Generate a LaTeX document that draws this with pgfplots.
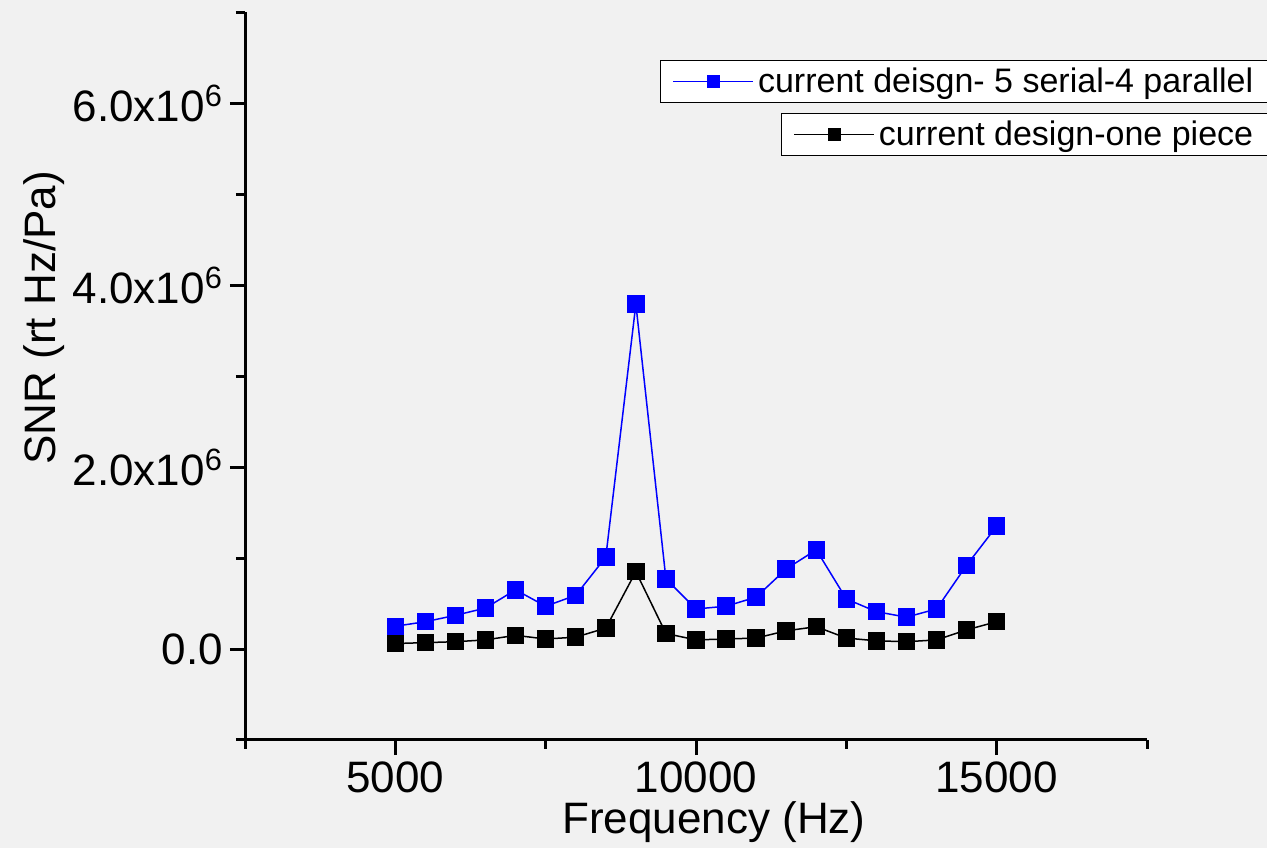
\documentclass[border=0pt]{standalone}
\usepackage{fontspec}
\setmainfont{Liberation Sans}
\usepackage{pgfplots}
\pgfplotsset{compat=1.18}
\definecolor{bg}{RGB}{241,241,241}
\begin{document}
\begin{tikzpicture}
\fill[bg] (0,0) rectangle (633.5bp,424bp);
\useasboundingbox (0,0) rectangle (633.5bp,424bp);
\pgfplotsset{
 common/.style={
  at={(122.5bp,54bp)}, anchor=south west,
  width=451bp, height=364bp, scale only axis,
  xmin=2500, xmax=17500, ymin=-1e6, ymax=7e6,
  clip=false, scaled ticks=false,
 },
}
\begin{axis}[common,
 axis x line*=bottom, axis y line*=left,
 axis line style={line width=1.5bp,-},
 tick align=outside, major tick length=7.5bp, minor tick length=4.5bp,
 tick style={line width=1.5bp, black},
 xtick={5000,10000,15000}, xticklabels={5000,10000,15000},
 minor xtick={2500,7500,12500,17500},
 ytick={0,2e6,4e6,6e6},
 yticklabels={0.0, 2.0x10\textsuperscript{6}, 4.0x10\textsuperscript{6}, 6.0x10\textsuperscript{6}},
 minor ytick={-1e6,1e6,3e6,5e6,7e6},
 ticklabel style={font=\fontsize{22bp}{26bp}\selectfont},
 xlabel={Frequency (Hz)}, ylabel={SNR (rt Hz/Pa)},
 label style={font=\fontsize{22bp}{26bp}\selectfont},
 xlabel style={at={(axis description cs:0.52,-0.113)}, anchor=center},
 ylabel style={at={(axis description cs:-0.223,0.58)}, anchor=center},
 legend style={at={(axis description cs:1.136,0.934)}, anchor=north east,
   draw=black, line width=0.5bp, fill=white,
   font=\fontsize{17bp}{20bp}\selectfont, inner xsep=6bp, inner ysep=1.5bp},
 legend image code/.code={\draw[#1, mark size=2.8bp, mark repeat=2, mark phase=2] plot coordinates {(0bp,0bp)(20bp,0bp)(40bp,0bp)};},
]
\addplot[blue, line width=0.75bp, mark=square*, mark size=4bp, mark options={solid, fill=blue, draw=blue}]
coordinates {(5000,0.25e6)(5500,0.30e6)(6000,0.37e6)(6500,0.45e6)(7000,0.65e6)(7500,0.47e6)(8000,0.59e6)(8500,1.01e6)(9000,3.79e6)(9500,0.77e6)(10000,0.44e6)(10500,0.47e6)(11000,0.57e6)(11500,0.88e6)(12000,1.09e6)(12500,0.55e6)(13000,0.41e6)(13500,0.35e6)(14000,0.44e6)(14500,0.92e6)(15000,1.35e6)};
\addlegendentry{current deisgn- 5 serial-4 parallel}
\end{axis}
\begin{axis}[common, hide axis,
 legend style={at={(axis description cs:1.136,0.861)}, anchor=north east,
   draw=black, line width=0.5bp, fill=white,
   font=\fontsize{17bp}{20bp}\selectfont, inner xsep=6bp, inner ysep=1.5bp},
 legend image code/.code={\draw[#1, mark size=2.8bp, mark repeat=2, mark phase=2] plot coordinates {(0bp,0bp)(20bp,0bp)(40bp,0bp)};},
]
\addplot[black, line width=0.75bp, mark=square*, mark size=4bp, mark options={solid, fill=black, draw=black}]
coordinates {(5000,0.06e6)(5500,0.07e6)(6000,0.08e6)(6500,0.10e6)(7000,0.15e6)(7500,0.11e6)(8000,0.13e6)(8500,0.23e6)(9000,0.85e6)(9500,0.17e6)(10000,0.10e6)(10500,0.11e6)(11000,0.12e6)(11500,0.20e6)(12000,0.245e6)(12500,0.12e6)(13000,0.09e6)(13500,0.08e6)(14000,0.10e6)(14500,0.21e6)(15000,0.30e6)};
\addlegendentry{current design-one piece}
\end{axis}
\end{tikzpicture}
\end{document}
